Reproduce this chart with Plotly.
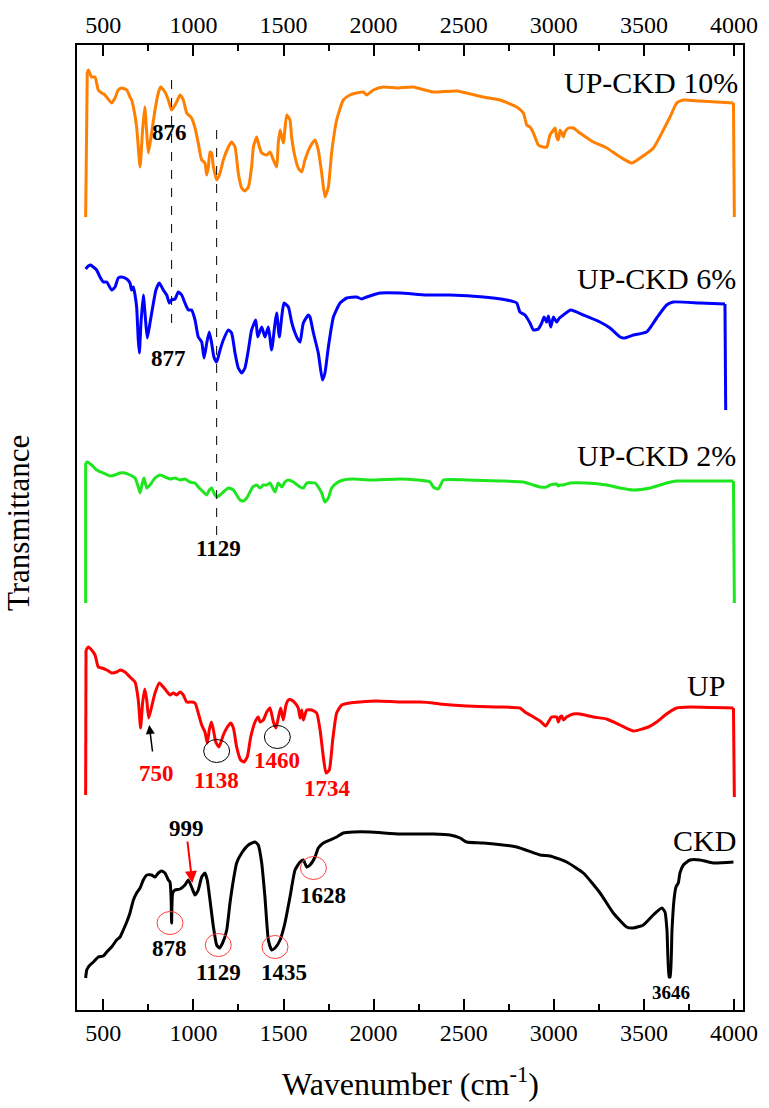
import plotly.graph_objects as go

# ---------------- data (wavenumber in cm-1, transmittance in stacked arbitrary units) -------------
wn_10 = [402, 411, 417, 435, 454, 472, 491, 509, 546, 565, 583, 602, 630, 648, 657, 667, 685, 704, 718, 730,
         741, 750, 768, 787, 805, 818, 842, 861, 879, 898, 907, 926, 944, 963, 990, 1009, 1027, 1046, 1064, 1074,
         1083, 1092, 1101, 1111, 1129, 1148, 1166, 1194, 1212, 1231, 1249, 1268, 1286, 1305, 1323, 1333, 1351, 1360,
         1379, 1407, 1425, 1444, 1462, 1471, 1481, 1499, 1518, 1536, 1545, 1564, 1582, 1601, 1619, 1647, 1675, 1693,
         1712, 1730, 1749, 1767, 1795, 1832, 1869, 1906, 1943, 1962, 1999, 2054, 2128, 2220, 2331, 2461, 2609, 2702,
         2794, 2831, 2850, 2868, 2887, 2914, 2942, 2961, 2979, 2998, 3007, 3016, 3025, 3035, 3044, 3053, 3062, 3081,
         3108, 3145, 3220, 3294, 3368, 3432, 3479, 3553, 3608, 3645, 3682, 3719, 3811, 3997, 4002]
t_10 = [79.3, 93.8, 94.0, 93.3, 93.3, 92.0, 91.7, 91.5, 90.7, 91.2, 92.0, 92.2, 92.0, 91.3, 91.0, 90.3, 88.3, 84.3, 88.0, 90.3,
        87.7, 85.7, 87.7, 90.0, 91.7, 92.3, 91.8, 91.0, 90.0, 90.5, 90.8, 91.5, 91.0, 89.7, 89.2, 88.2, 86.7, 85.0, 84.7, 83.5,
        84.3, 85.8, 85.7, 84.3, 83.0, 83.7, 85.0, 86.3, 86.8, 86.3, 83.7, 82.2, 81.9, 82.3, 84.3, 86.3, 87.3, 86.7,
        85.7, 85.5, 85.8, 85.0, 84.3, 86.7, 88.0, 86.7, 89.5, 89.0, 87.3, 85.3, 84.2, 83.8, 85.0, 86.3, 87.0, 86.0,
        83.7, 81.3, 82.3, 85.7, 89.0, 91.0, 91.5, 91.7, 91.8, 91.5, 92.0, 92.3, 92.2, 92.3, 91.8, 91.9, 91.3, 91.0,
        90.3, 89.7, 88.5, 88.3, 87.7, 86.5, 86.3, 86.3, 87.5, 88.0, 88.2, 87.3, 87.0, 88.0, 87.7, 87.3, 87.8, 88.2,
        88.2, 87.7, 86.8, 86.2, 85.3, 84.7, 85.2, 86.2, 88.0, 89.3, 90.7, 91.0, 90.9, 90.7, 79.3]

wn_6 = [402, 417, 430, 445, 463, 482, 500, 519, 546, 565, 583, 602, 630, 648, 657, 667, 676, 685, 694, 700,
        709, 722, 733, 744, 759, 778, 792, 811, 833, 852, 866, 879, 898, 916, 935, 953, 972, 990, 1009, 1027,
        1046, 1059, 1074, 1088, 1101, 1114, 1129, 1148, 1166, 1194, 1212, 1231, 1249, 1268, 1286, 1305, 1323, 1346,
        1357, 1379, 1397, 1416, 1434, 1453, 1462, 1477, 1490, 1503, 1527, 1545, 1564, 1582, 1592, 1610, 1638, 1647,
        1666, 1693, 1716, 1730, 1749, 1777, 1814, 1851, 1906, 1934, 1962, 2036, 2147, 2294, 2424, 2609, 2738, 2794,
        2812, 2840, 2868, 2887, 2914, 2933, 2946, 2960, 2970, 2983, 2998, 3016, 3031, 3053, 3094, 3164, 3256, 3312,
        3368, 3395, 3442, 3515, 3571, 3626, 3663, 3811, 3950, 3954]
t_6 = [74.1, 74.4, 74.5, 74.3, 74.0, 73.3, 72.8, 72.8, 72.0, 72.3, 73.2, 73.3, 73.1, 72.7, 72.0, 72.3, 71.5, 70.3, 67.0, 65.7,
       68.7, 71.5, 69.3, 67.2, 68.7, 70.7, 72.0, 72.7, 72.0, 71.5, 70.7, 71.0, 71.1, 71.8, 71.5, 70.7, 70.0, 70.0, 69.0, 67.3,
       66.8, 65.2, 66.7, 67.8, 66.7, 65.3, 64.8, 66.0, 67.0, 68.0, 67.7, 65.7, 64.2, 63.7, 64.2, 66.0, 68.0, 69.0,
       67.3, 68.3, 67.3, 68.3, 66.0, 68.7, 69.7, 67.3, 69.3, 70.7, 70.3, 68.8, 67.7, 67.0, 66.8, 68.7, 69.5, 69.3,
       67.7, 65.7, 63.0, 63.7, 66.3, 69.3, 70.7, 71.2, 71.3, 71.1, 71.3, 71.7, 71.7, 71.5, 71.5, 71.3, 71.0, 70.7,
       69.8, 69.5, 68.7, 68.0, 68.1, 68.7, 69.3, 68.8, 69.4, 68.3, 69.3, 68.8, 69.2, 69.5, 70.0, 69.5, 68.8, 68.2,
       67.3, 67.2, 67.5, 67.8, 69.2, 70.5, 70.8, 70.7, 70.6, 60.0]

wn_2 = [402, 402, 411, 435, 463, 500, 537, 565, 593, 620, 648, 676, 694, 704, 718, 726, 741, 759, 787, 815,
        842, 870, 898, 926, 953, 981, 1009, 1027, 1055, 1074, 1088, 1101, 1114, 1129, 1148, 1166, 1194, 1222, 1240,
        1259, 1277, 1296, 1314, 1329, 1351, 1370, 1388, 1407, 1425, 1440, 1453, 1471, 1490, 1508, 1527, 1555, 1592,
        1610, 1629, 1675, 1693, 1712, 1730, 1749, 1767, 1795, 1832, 1888, 1980, 2147, 2239, 2313, 2331, 2359, 2372,
        2387, 2516, 2702, 2831, 2887, 2924, 2960, 2979, 3016, 3025, 3035, 3053, 3090, 3182, 3293, 3367, 3441, 3534,
        3626, 3682, 3811, 3997, 4002]
t_2 = [40.7, 54.7, 54.8, 54.5, 54.0, 53.7, 53.4, 53.5, 53.7, 53.7, 53.5, 53.2, 52.3, 51.7, 52.8, 53.2, 52.2, 52.5, 53.2, 53.5,
       53.3, 53.1, 53.2, 53.0, 53.1, 52.8, 52.7, 52.3, 51.8, 51.5, 52.0, 52.2, 51.7, 51.3, 51.5, 51.8, 52.2, 52.0, 51.5,
       51.0, 50.9, 51.2, 51.8, 52.3, 52.5, 52.2, 52.5, 52.5, 52.7, 52.2, 51.8, 52.7, 52.3, 52.8, 53.0, 52.8, 52.3,
       52.2, 52.7, 52.7, 52.3, 51.7, 50.8, 51.2, 52.2, 52.7, 53.0, 53.1, 53.0, 53.1, 53.0, 52.8, 52.3, 52.1, 52.5,
       53.0, 53.0, 52.9, 52.8, 52.5, 52.3, 52.3, 52.5, 52.6, 52.4, 52.5, 52.5, 52.7, 52.7, 52.5, 52.2, 52.0, 52.2,
       52.7, 52.9, 52.9, 52.9, 40.7]

wn_up = [402, 404, 417, 435, 454, 472, 491, 519, 546, 574, 593, 620, 648, 676, 694, 707, 718, 730, 741, 752,
         768, 787, 811, 833, 855, 870, 889, 907, 926, 944, 963, 990, 1009, 1027, 1046, 1064, 1077, 1088, 1100, 1111,
         1124, 1142, 1166, 1185, 1207, 1222, 1240, 1262, 1281, 1299, 1318, 1342, 1360, 1370, 1388, 1407, 1425, 1444,
         1458, 1471, 1484, 1499, 1514, 1527, 1545, 1564, 1582, 1592, 1601, 1610, 1629, 1656, 1684, 1703, 1721, 1736,
         1754, 1773, 1795, 1823, 1869, 1925, 2017, 2147, 2257, 2331, 2368, 2516, 2702, 2812, 2840, 2887, 2924, 2955,
         2970, 2988, 3016, 3025, 3035, 3044, 3053, 3071, 3108, 3145, 3219, 3293, 3367, 3441, 3525, 3571, 3626, 3682,
         3756, 3997, 4002]
t_up = [21.5, 36.0, 36.3, 36.0, 35.5, 34.3, 34.2, 34.0, 33.7, 33.8, 34.0, 33.8, 33.3, 32.8, 31.0, 28.2, 30.7, 32.1, 31.0, 29.2,
        30.3, 31.7, 32.7, 32.3, 31.8, 31.5, 31.7, 31.5, 31.8, 31.5, 30.8, 30.8, 30.7, 29.7, 28.5, 27.8, 26.7, 28.0, 28.8, 28.0,
        26.8, 26.3, 27.5, 28.2, 28.7, 28.2, 26.3, 25.0, 24.8, 25.3, 27.3, 28.8, 29.3, 28.8, 29.0, 29.8, 30.2, 28.8,
        28.2, 29.2, 30.2, 29.0, 30.5, 31.0, 31.0, 30.7, 30.2, 29.2, 30.0, 29.0, 30.0, 30.0, 29.7, 28.0, 25.3, 23.7,
        24.0, 27.0, 29.7, 30.5, 30.7, 30.8, 30.9, 30.8, 30.8, 30.7, 30.6, 30.4, 30.3, 30.2, 29.8, 29.3, 28.9, 28.4,
        28.8, 29.3, 29.3, 28.8, 29.3, 29.4, 29.0, 29.3, 29.6, 29.6, 29.3, 29.1, 28.5, 27.9, 28.3, 28.8, 29.6, 30.2,
        30.3, 30.2, 21.3]

wn_ckd = [402, 408, 417, 426, 445, 472, 500, 519, 546, 574, 593, 611, 630, 648, 667, 685, 704, 722, 741, 768,
          787, 805, 824, 842, 861, 870, 876, 879, 885, 898, 926, 953, 972, 990, 1009, 1027, 1046, 1064, 1077, 1092,
          1111, 1129, 1144, 1162, 1185, 1203, 1222, 1240, 1268, 1305, 1342, 1360, 1379, 1397, 1416, 1434, 1453, 1481,
          1508, 1536, 1564, 1592, 1610, 1629, 1647, 1675, 1693, 1721, 1758, 1795, 1832, 1888, 1980, 2147, 2331, 2424,
          2480, 2516, 2609, 2794, 2924, 2979, 3071, 3164, 3257, 3330, 3404, 3441, 3497, 3552, 3599, 3617, 3628, 3640,
          3646, 3656, 3667, 3678, 3691, 3700, 3719, 3756, 3811, 3885, 3997]
t_ckd = [3.2, 4.0, 4.3, 4.5, 4.8, 5.3, 5.4, 5.8, 6.3, 7.0, 7.3, 8.0, 8.8, 9.7, 11.0, 11.7, 12.2, 13.0, 13.5, 13.5,
         13.3, 13.7, 13.9, 13.7, 13.0, 12.8, 11.3, 8.7, 11.7, 12.0, 12.1, 12.5, 13.0, 12.3, 11.5, 12.0, 13.3, 13.7, 13.0, 11.0,
         8.3, 6.5, 6.2, 6.7, 8.0, 10.7, 13.0, 14.7, 15.7, 16.5, 16.8, 16.5, 14.7, 11.3, 7.0, 6.0, 6.2, 7.0,
         8.7, 11.3, 14.0, 14.8, 15.0, 14.3, 14.5, 15.3, 16.2, 16.7, 17.0, 17.3, 17.7, 17.8, 17.8, 17.6, 17.6, 17.5,
         17.2, 16.8, 16.7, 16.3, 15.5, 15.4, 14.8, 13.7, 11.7, 9.7, 8.3, 8.2, 8.5, 9.5, 10.2, 9.8, 8.0, 3.3,
         3.3, 8.0, 11.0, 12.3, 12.7, 13.7, 14.5, 15.0, 15.0, 14.7, 14.8]

series_names = ["UP-CKD 10%", "UP-CKD 6%", "UP-CKD 2%", "UP", "CKD"]
series_wn = [wn_10, wn_6, wn_2, wn_up, wn_ckd]
series_t = [t_10, t_6, t_2, t_up, t_ckd]
series_colors = ["#ff8000", "#0000ff", "#1ee61e", "#ff0000", "#000000"]
# whether the spectrum starts / ends with a near-vertical instrument drop
starts_with_drop = [True, False, True, True, False]
ends_with_drop = [True, True, True, True, False]

# series name labels: (wavenumber at right edge, transmittance)
name_label_x = [4035, 4020, 4022, 3960, 4022]
name_label_y = [92.8, 73.2, 55.5, 32.5, 17.0]

# peak labels
peak_text = ["876", "877", "1129", "750", "1138", "1460", "1734", "999", "878", "1129", "1435", "1628", "3646"]
peak_x = [865, 861, 1138, 796, 1129, 1466, 1743, 963, 870, 1138, 1505, 1721, 3649]
peak_y = [87.8, 65.2, 46.2, 23.7, 23.0, 25.0, 22.2, 18.2, 6.2, 3.8, 3.8, 11.5, 1.8]
peak_color = ["black", "black", "black", "#ff0000", "#ff0000", "#ff0000", "#ff0000",
              "black", "black", "black", "black", "black", "black"]

# dashed guide lines: wavenumber, y from, y to
guide_x = [879, 1129]
guide_y0 = [68.7, 47.5]
guide_y1 = [93.0, 88.8]

# highlighted peaks (ellipses): centre wavenumber, centre transmittance, colour
ring_x = [1129, 1466, 870, 1138, 1453, 1666]
ring_y = [25.9, 27.3, 8.7, 6.5, 6.3, 14.2]
ring_color = ["black", "black", "#ff4040", "#ff4040", "#ff4040", "#ff4040"]

# arrows: (tail x, tail y) -> (head x, head y)
arrow_tail = [(774, 25.7), (966, 17.0)]
arrow_head = [(755, 28.5), (994, 12.7)]
arrow_color = ["black", "#ff0000"]

xmin, xmax = 354, 4050
ymin, ymax = 0, 96.5

FONT = "Liberation Serif, Times New Roman, serif"

fig = go.Figure()
for name, wn, t, col, sd, ed in zip(series_names, series_wn, series_t, series_colors,
                                    starts_with_drop, ends_with_drop):
    i0 = 1 if sd else 0
    i1 = len(wn) - 1 if ed else len(wn)
    # smooth body of the spectrum
    fig.add_trace(go.Scatter(x=wn[i0:i1], y=t[i0:i1], mode="lines", name=name,
                             line=dict(color=col, width=3, shape="spline", smoothing=0.5),
                             showlegend=False))
    # straight edge drops
    if sd:
        fig.add_trace(go.Scatter(x=wn[:2], y=t[:2], mode="lines", line=dict(color=col, width=3),
                                 showlegend=False, hoverinfo="skip"))
    if ed:
        fig.add_trace(go.Scatter(x=wn[-2:], y=t[-2:], mode="lines", line=dict(color=col, width=3),
                                 showlegend=False, hoverinfo="skip"))
# invisible trace to activate top axis
fig.add_trace(go.Scatter(x=[xmin, xmax], y=[ymin, ymin], xaxis="x2", mode="lines",
                         line=dict(width=0), hoverinfo="skip", showlegend=False))

shapes = []
for gx, g0, g1 in zip(guide_x, guide_y0, guide_y1):
    shapes.append(dict(type="line", xref="x", yref="y", x0=gx, x1=gx, y0=g0, y1=g1,
                       line=dict(color="black", width=1, dash="dash")))
for rx, ry, rc in zip(ring_x, ring_y, ring_color):
    shapes.append(dict(type="circle", xref="x", yref="y", x0=rx - 72, x1=rx + 72,
                       y0=ry - 1.15, y1=ry + 1.15, line=dict(color=rc, width=1)))

annotations = []
for nm, nx, ny in zip(series_names, name_label_x, name_label_y):
    annotations.append(dict(x=nx, y=ny, xref="x", yref="y", text=nm, showarrow=False,
                            xanchor="right", yanchor="middle",
                            font=dict(family=FONT, size=30, color="black")))
for pt, px, py, pc in zip(peak_text, peak_x, peak_y, peak_color):
    size = 19 if pt == "3646" else 23
    annotations.append(dict(x=px, y=py, xref="x", yref="y", text="<b>%s</b>" % pt, showarrow=False,
                            xanchor="center", yanchor="middle",
                            font=dict(family=FONT, size=size, color=pc)))
for (tx, ty), (hx, hy), ac in zip(arrow_tail, arrow_head, arrow_color):
    annotations.append(dict(x=hx, y=hy, ax=tx, ay=ty, xref="x", yref="y", axref="x", ayref="y",
                            text="", showarrow=True, arrowhead=2, arrowsize=1.2,
                            arrowwidth=1.5 if ac == "black" else 2, arrowcolor=ac))
annotations.append(dict(x=0.5, y=-0.0746, xref="paper", yref="paper", showarrow=False,
                        text="Wavenumber (cm<sup>-1</sup>)", xanchor="center", yanchor="middle",
                        font=dict(family=FONT, size=32, color="black")))
annotations.append(dict(x=-0.088, y=0.505, xref="paper", yref="paper", showarrow=False,
                        text="Transmittance", textangle=-90, xanchor="center", yanchor="middle",
                        font=dict(family=FONT, size=31, color="black")))

axis_common = dict(range=[xmin, xmax], tickvals=[500, 1000, 1500, 2000, 2500, 3000, 3500, 4000],
                   ticks="inside", ticklen=11, tickwidth=2, tickcolor="black",
                   showline=True, linewidth=2, linecolor="black", showgrid=False, zeroline=False,
                   tickfont=dict(family=FONT, size=24, color="black"),
                   minor=dict(tickvals=[750, 1250, 1750, 2250, 2750, 3250, 3750], ticks="inside",
                              ticklen=6, tickwidth=2, tickcolor="black", showgrid=False))

fig.update_layout(
    width=769, height=1108,
    margin=dict(l=77, r=26, t=45, b=98),
    paper_bgcolor="white", plot_bgcolor="white",
    xaxis=dict(**axis_common, side="bottom"),
    xaxis2=dict(**axis_common, side="top", overlaying="x", anchor="y"),
    yaxis=dict(range=[ymin, ymax], showticklabels=False, ticks="", showgrid=False, zeroline=False,
               showline=True, linewidth=2, linecolor="black", mirror=True),
    shapes=shapes, annotations=annotations,
)

fig.write_html("out.html")
